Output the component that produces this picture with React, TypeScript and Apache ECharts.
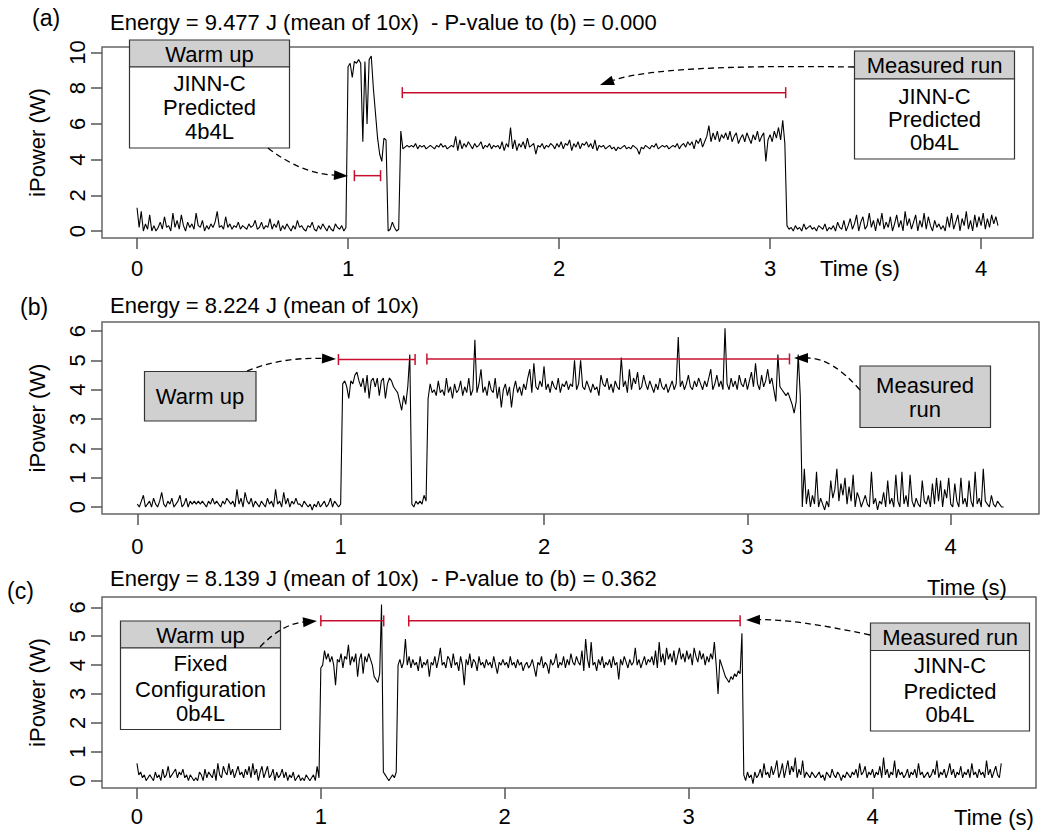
import React, { useEffect, useRef } from "react";
import * as echarts from "echarts";

// sampling step of the power traces (seconds)
const STEP = 0.01;

// (a) JINN-C predicted warm up 4b4L, measured run 0b4L — samples from t = 0.00 s
const powerA = [
  1.3, 0.2, 1.1, 0.0, 0.4, 0.1, 0.9, 0.0, 0.3, 0.0,
  0.2, 0.5, 0.1, 0.8, 0.2, 0.3, 0.0, 1.0, 0.2, 0.6,
  0.1, 0.9, 0.3, 0.0, 0.5, 0.2, 0.4, 0.1, 1.0, 0.3,
  0.2, 0.6, 0.0, 0.3, 0.1, 0.4, 0.2, 0.5, 1.1, 0.2,
  0.3, 0.1, 0.8, 0.2, 0.4, 0.1, 0.3, 0.2, 0.5, 0.1,
  0.3, 0.2, 0.1, 0.4, 0.2, 0.3, 0.6, 0.1, 0.2, 0.5,
  0.1, 0.3, 0.2, 0.7, 0.1, 0.4, 0.2, 0.6, 0.0, 0.3,
  0.1, 0.4, 0.2, 0.0, 0.3, 0.1, 0.6, 0.2, 0.3, 0.1,
  0.0, 0.3, 0.2, 0.5, 0.1, 0.0, 0.3, 0.1, 0.4, 0.2,
  0.0, 0.3, 0.1, 0.0, 0.4, 0.2, 0.1, 0.3, 0.0, 0.2,
  9.2, 9.4, 8.6, 9.5, 9.4, 9.6, 9.4, 5.0, 9.5, 6.0,
  9.6, 9.8, 8.0, 6.6, 5.2, 4.3, 3.9, 5.2, 5.1, 0.0,
  0.1, 0.5, 0.2, 0.0, 0.1, 5.6, 4.6, 4.7, 4.8, 4.7,
  4.8, 4.7, 4.9, 4.6, 4.8, 4.7, 4.8, 4.6, 4.7, 4.8,
  4.7, 4.6, 4.8, 4.7, 4.9, 4.7, 4.8, 4.6, 4.7, 4.8,
  4.7, 5.3, 4.5, 5.1, 4.6, 4.9, 4.7, 5.0, 4.8, 4.6,
  4.9, 4.7, 4.8, 5.0, 4.6, 4.8, 4.7, 4.9, 4.6, 4.8,
  4.7, 4.8, 4.6, 5.0, 4.5, 4.9, 4.7, 5.8, 4.6, 5.1,
  4.5, 4.9, 4.7, 5.0, 4.6, 5.2, 4.7, 4.8, 4.9, 4.3,
  4.8, 4.7, 4.9, 4.6, 4.8, 4.7, 4.9, 4.8, 4.6, 4.9,
  4.7, 5.0, 4.6, 4.9, 4.8, 5.1, 4.5, 4.9, 4.7, 5.0,
  4.6, 4.9, 4.8, 5.0, 4.7, 4.9, 4.6, 5.1, 4.5, 4.8,
  4.7, 4.8, 4.6, 4.7, 4.8, 4.6, 4.7, 4.5, 4.7, 4.6,
  4.7, 4.8, 4.6, 4.7, 4.6, 4.8, 4.7, 4.6, 4.3, 4.7,
  4.6, 4.8, 4.7, 4.6, 4.8, 4.7, 4.9, 4.6, 4.7, 4.8,
  4.7, 4.8, 4.6, 4.7, 4.8, 4.7, 4.9, 4.6, 4.8, 4.9,
  4.7, 5.0, 4.8, 5.0, 4.6, 5.1, 4.9, 5.2, 4.7, 5.0,
  5.3, 5.9, 5.0, 5.5, 5.1, 5.6, 5.0, 5.4, 5.2, 5.5,
  5.1, 5.6, 5.0, 5.3, 5.5, 4.9, 5.2, 5.4, 5.0, 5.5,
  5.2, 4.9, 5.4, 5.1, 5.6, 5.0, 5.3, 5.5, 3.9, 5.1,
  5.4, 5.0, 5.6, 5.2, 5.8, 5.1, 6.2, 4.9, 0.3, 0.1,
  0.2, 0.0, 0.3, 0.1, 0.2, 0.0, 0.4, 0.1, 0.2, 0.3,
  0.1, 0.2, 0.0, 0.3, 0.2, 0.1, 0.4, 0.0, 0.2, 0.1,
  0.3, 0.0, 0.5, 0.2, 0.1, 0.6, 0.0, 0.3, 0.7, 0.1,
  0.4, 0.9, 0.0, 0.5, 0.8, 0.1, 0.3, 1.0, 0.2, 0.6,
  0.0, 0.7, 0.3, 1.0, 0.1, 0.5, 0.2, 0.8, 0.0, 0.4,
  0.9, 0.2, 0.6, 0.0, 1.1, 0.3, 0.7, 0.1, 0.5, 0.9,
  0.0, 0.6, 0.2, 1.0, 0.1, 0.8, 0.3, 0.0, 0.6, 0.2,
  0.4, 0.1, 0.3, 0.0, 0.8, 0.2, 1.0, 0.1, 0.5, 0.9,
  0.0, 0.7, 0.3, 1.1, 0.1, 0.6, 0.0, 0.9, 0.2, 0.8,
  0.3, 1.0, 0.1, 0.7, 0.2, 0.9, 0.4, 0.8, 0.3,
];

// (b) reference run — samples from t = 0.00 s
const powerB = [
  0.1, 0.0, 0.2, 0.4, 0.0, 0.1, 0.2, 0.0, 0.3, 0.1,
  0.0, 0.2, 0.5, 0.1, 0.0, 0.2, 0.1, 0.3, 0.0, 0.1,
  0.2, 0.4, 0.0, 0.1, 0.3, 0.0, 0.2, 0.1, 0.2, 0.1,
  0.2, 0.1, 0.2, 0.1, 0.0, 0.2, 0.1, 0.3, 0.1, 0.2,
  0.1, 0.0, 0.2, 0.1, 0.3, 0.2, 0.1, 0.2, 0.0, 0.6,
  0.1, 0.3, 0.0, 0.5, 0.2, 0.1, 0.3, 0.0, 0.2, 0.1,
  0.0, 0.2, 0.1, 0.0, 0.3, 0.1, 0.2, 0.0, 0.6, 0.1,
  0.2, 0.0, 0.5, 0.1, 0.3, 0.0, 0.2, 0.1, 0.3, 0.1,
  0.1, 0.0, 0.2, 0.1, 0.0, 0.1, -0.1, 0.1, 0.0, 0.2,
  0.0, 0.1, 0.2, 0.0, 0.1, 0.3, 0.0, 0.2, 0.1, 0.0,
  0.1, 4.2, 4.3, 4.1, 3.7, 4.3, 4.2, 4.5, 4.6, 4.3,
  4.1, 4.4, 3.9, 4.5, 3.7, 4.3, 4.4, 4.1, 4.4, 3.8,
  4.3, 4.4, 3.7, 4.2, 4.4, 4.3, 4.1, 4.0, 3.9, 3.6,
  3.3, 3.8, 3.5, 4.1, 5.2, 0.1, 0.0, 0.2, 0.1, 0.2,
  0.1, 0.4, 0.2, 3.7, 4.2, 3.9, 4.0, 3.8, 4.3, 3.9,
  4.0, 3.8, 4.4, 3.9, 4.1, 3.7, 4.2, 3.9, 4.0, 4.3,
  3.8, 4.1, 3.9, 4.4, 3.8, 4.0, 5.7, 3.9, 4.2, 4.7,
  3.9, 4.1, 3.8, 4.3, 4.0, 3.9, 4.4, 3.7, 4.1, 3.4,
  4.0, 4.2, 3.8, 4.1, 3.4, 4.0, 4.3, 3.9, 4.1, 3.8,
  4.2, 4.0, 4.4, 4.7, 3.9, 4.9, 4.1, 4.0, 4.3, 4.1,
  4.8, 4.0, 4.2, 3.9, 4.3, 4.1, 4.0, 4.4, 3.9, 4.2,
  4.1, 4.3, 4.0, 4.2, 4.1, 5.0, 4.0, 4.2, 5.0, 4.1,
  4.0, 4.3, 4.1, 3.9, 4.2, 4.0, 4.1, 3.8, 4.5, 4.2,
  4.1, 4.4, 4.0, 4.2, 3.9, 4.3, 4.1, 4.0, 5.1, 4.1,
  4.3, 3.9, 4.7, 4.0, 4.4, 4.2, 4.6, 4.0, 4.1, 4.5,
  4.2, 4.0, 4.3, 4.1, 3.9, 4.2, 4.0, 4.4, 4.1, 4.0,
  4.2, 3.9, 4.1, 4.3, 4.0, 4.2, 5.8, 4.1, 4.3, 4.0,
  4.2, 4.5, 4.1, 4.0, 4.3, 4.1, 4.4, 4.2, 4.0, 4.3,
  4.1, 4.4, 4.7, 4.0, 4.2, 4.5, 4.1, 4.3, 4.0, 6.1,
  4.2, 4.0, 4.4, 4.1, 4.3, 4.0, 4.5, 4.2, 4.1, 4.4,
  4.0, 4.3, 4.6, 4.1, 4.9, 4.2, 4.0, 4.5, 4.1, 4.3,
  4.7, 4.2, 4.4, 4.0, 3.6, 5.2, 4.1, 4.0, 3.9, 3.8,
  3.9, 3.7, 3.5, 3.2, 3.6, 5.2, 3.8, 0.0, 1.3, 0.1,
  0.6, 0.0, 0.4, 0.1, 1.2, 0.0, 0.3, 0.1, -0.1, 0.2,
  0.0, 0.9, 0.3, 0.6, 1.3, 0.2, 0.8, 0.4, 1.0, 0.1,
  0.7, 0.2, 1.1, 0.0, 0.5, 0.3, 0.0, 0.2, 0.4, 0.1,
  0.0, 1.2, 0.1, 0.3, -0.1, 0.2, 0.1, 0.5, 0.0, 0.9,
  0.1, 0.3, 0.0, 1.1, 0.2, 0.0, 1.2, 0.1, 0.4, 0.0,
  1.1, 0.2, 0.0, 0.3, 0.1, 0.0, 0.9, 0.2, 0.1, 0.4,
  0.0, 0.8, 0.1, 1.0, 0.2, 0.9, 0.0, 0.6, 0.3, 1.0,
  0.1, 0.0, 0.8, 0.2, 0.0, 1.0, 0.1, 0.3, 0.0, 0.9,
  0.2, 0.0, 1.2, 0.1, 0.3, 0.0, 1.3, 0.2, 0.1, 0.0,
  0.4, 0.1, 0.0, 0.2, 0.1, 0.0, 0.0,
];

// (c) fixed configuration warm up 0b4L — samples from t = 0.00 s
const powerC = [
  0.6, 0.2, 0.3, 0.1, 0.2, 0.0, 0.1, 0.2, 0.1, 0.0,
  0.3, 0.1, 0.2, 0.0, 0.4, 0.1, 0.2, 0.5, 0.1, 0.2,
  0.3, 0.4, 0.1, 0.3, 0.2, 0.4, 0.1, 0.2, 0.0, 0.2,
  0.1, 0.0, 0.1, 0.0, 0.3, 0.2, 0.0, 0.4, 0.1, 0.3,
  0.2, 0.1, 0.4, 0.0, 0.6, 0.2, 0.1, 0.5, 0.3, 0.2,
  0.6, 0.2, 0.4, 0.1, 0.3, 0.5, 0.2, 0.3, 0.1, 0.4,
  0.2, 0.5, 0.1, 0.6, 0.2, 0.4, 0.0, 0.3, 0.5, 0.1,
  0.3, 0.5, 0.1, 0.2, 0.4, 0.0, 0.3, 0.1, 0.2, 0.4,
  0.1, 0.3, 0.0, 0.2, 0.1, 0.3, 0.0, 0.1, 0.2, 0.0,
  0.1, 0.0, 0.2, 0.1, 0.0, 0.1, 0.2, 0.0, 0.5, 0.1,
  3.9, 4.0, 4.5, 4.2, 4.4, 4.1, 4.3, 4.0, 3.3, 4.2,
  4.1, 4.4, 3.9, 4.3, 4.2, 4.7, 4.0, 4.3, 4.1, 4.4,
  3.6, 4.2, 4.4, 3.7, 4.3, 4.1, 4.4, 4.2, 4.0, 3.6,
  3.5, 3.4, 3.7, 6.1, 0.3, 0.2, 0.1, 0.0, 0.1, 0.2,
  0.1, 0.3, 4.0, 4.2, 3.9, 4.1, 4.9, 4.0, 4.3, 3.9,
  4.2, 4.0, 4.1, 3.8, 4.3, 3.9, 4.1, 4.0, 4.2, 3.6,
  4.1, 4.0, 4.3, 3.9, 4.2, 4.6, 4.0, 4.1, 3.9, 4.3,
  4.2, 3.9, 4.4, 4.0, 4.1, 3.8, 4.3, 4.0, 3.3, 4.2,
  4.0, 4.4, 3.9, 4.2, 4.1, 3.8, 4.3, 4.0, 4.1, 3.9,
  4.2, 4.0, 4.1, 3.9, 4.3, 4.0, 3.7, 4.1, 4.0, 4.2,
  4.0, 4.1, 3.9, 4.3, 4.0, 4.1, 3.9, 4.2, 4.0, 4.1,
  3.8, 4.0, 4.1, 3.9, 4.0, 4.2, 3.9, 3.6, 4.1, 4.0,
  4.3, 3.9, 4.1, 4.0, 3.7, 4.2, 4.0, 4.1, 4.4, 3.9,
  4.1, 4.0, 4.3, 3.9, 4.2, 4.0, 4.4, 4.1, 4.0, 4.3,
  4.1, 4.0, 4.5, 3.8, 4.9, 4.2, 3.9, 4.8, 4.0, 4.1,
  3.8, 4.2, 4.0, 4.3, 3.9, 4.1, 4.0, 4.2, 3.9, 4.3,
  4.0, 4.1, 3.5, 4.2, 4.0, 4.3, 4.1, 3.9, 4.2, 4.0,
  4.1, 4.6, 4.0, 4.2, 3.9, 4.1, 4.3, 4.0, 4.2, 4.1,
  4.3, 4.0, 4.5, 3.9, 4.8, 4.1, 4.4, 4.0, 4.6, 4.2,
  4.4, 4.1, 4.5, 4.0, 4.3, 4.6, 4.2, 4.4, 4.1, 4.5,
  4.2, 4.4, 4.0, 4.6, 4.3, 4.1, 4.5, 4.2, 4.4, 4.0,
  4.3, 4.1, 4.4, 4.2, 4.8, 4.0, 3.0, 4.2, 4.0, 3.8,
  3.6, 3.5, 3.4, 3.6, 3.5, 3.7, 3.6, 3.8, 3.7, 5.1,
  0.2, 0.0, 0.3, 0.1, 0.2, -0.1, 0.3, 0.1, 0.2, 0.4,
  0.1, 0.6, 0.2, 0.3, 0.1, 0.5, 0.2, 0.4, 0.7, 0.1,
  0.3, 0.6, 0.1, 0.4, 0.7, 0.2, 0.5, 0.3, 0.8, 0.1,
  0.4, 0.2, 0.7, 0.1, 0.3, 0.2, 0.1, 0.3, 0.2, 0.1,
  0.2, 0.3, 0.1, 0.2, 0.0, 0.3, 0.2, 0.1, 0.4, 0.2,
  0.1, 0.3, 0.2, 0.0, 0.2, 0.1, 0.3, 0.2, 0.1, 0.3,
  0.2, 0.4, 0.1, 0.6, 0.2, 0.3, 0.5, 0.1, 0.3, 0.2,
  0.4, 0.1, 0.3, 0.2, 0.5, 0.1, 0.8, 0.2, 0.4, 0.1,
  0.3, 0.2, 0.7, 0.1, 0.4, 0.2, 0.3, 0.1, 0.2, 0.4,
  0.1, 0.3, 0.2, 0.4, 0.1, 0.6, 0.2, 0.3, 0.1, 0.2,
  0.3, 0.1, 0.2, 0.4, 0.2, 0.7, 0.1, 0.3, 0.2, 0.4,
  0.1, 0.3, 0.6, 0.2, 0.4, 0.1, 0.3, 0.2, 0.5, 0.1,
  0.3, 0.2, 0.4, 0.1, 0.6, 0.2, 0.3, 0.1, 0.4, 0.2,
  0.3, 0.1, 0.7, 0.2, 0.4, 0.1, 0.3, 0.5, 0.2, 0.1,
  0.6,
];

// red interval markers: [start (s), end (s), level (W)]
const intervalsA = [
  [1.03, 1.154, 3.1],
  [1.257, 3.074, 7.75],
];
const intervalsB = [
  [0.989, 1.366, 5.03],
  [1.424, 3.207, 5.05],
];
const intervalsC = [
  [1.0, 1.342, 5.53],
  [1.478, 3.28, 5.53],
];

const xTicks = [0, 1, 2, 3, 4];
const yTicksA = [0, 2, 4, 6, 8, 10];
const yTicksBC = [0, 1, 2, 3, 4, 5, 6];

const panelTags = ["(a)", "(b)", "(c)"];
const panelTitles = [
  "Energy = 9.477 J (mean of 10x)  - P-value to (b) = 0.000",
  "Energy = 8.224 J (mean of 10x)",
  "Energy = 8.139 J (mean of 10x)  - P-value to (b) = 0.362",
];
const X_NAME = "Time (s)";
const Y_NAME = "iPower (W)";

const FONT = '"Liberation Sans", Arial, Helvetica, sans-serif';
const RED = "#c8102e";
const BOXGRAY = "#d0d0d0";
const FS = 22;

const toSeries = (vals: number[]) => vals.map((v, i) => [Math.round(i * STEP * 100) / 100, v]);

function txt(text: string, x: number, y: number, size = FS, align = "center") {
  return {
    type: "text",
    x,
    y,
    z: 20,
    silent: true,
    style: { text, fill: "#000", fontSize: size, fontFamily: FONT, align, verticalAlign: "middle" },
  };
}

function rect(x: number, y: number, w: number, h: number, fill: string) {
  return {
    type: "rect",
    z: 15,
    silent: true,
    shape: { x, y, width: w, height: h },
    style: { fill, stroke: "#333", lineWidth: 1.2 },
  };
}

function arrow(sx: number, sy: number, cx: number, cy: number, tx: number, ty: number) {
  const dx = tx - cx;
  const dy = ty - cy;
  const len = Math.hypot(dx, dy);
  const ux = dx / len;
  const uy = dy / len;
  const L = 14;
  const W = 5;
  const bx = tx - ux * L;
  const by = ty - uy * L;
  return [
    {
      type: "bezierCurve",
      z: 16,
      silent: true,
      shape: { x1: sx, y1: sy, cpx1: cx, cpy1: cy, x2: bx, y2: by },
      style: { stroke: "#000", lineWidth: 1.3, lineDash: [6, 4], fill: "none" },
    },
    {
      type: "polygon",
      z: 16,
      silent: true,
      shape: {
        points: [
          [tx, ty],
          [bx - uy * W, by + ux * W],
          [bx + uy * W, by - ux * W],
        ],
      },
      style: { fill: "#000" },
    },
  ];
}

function intervalSeries(data: number[][], idx: number) {
  return {
    type: "custom",
    xAxisIndex: idx,
    yAxisIndex: idx,
    data,
    z: 5,
    silent: true,
    renderItem: (_p: any, api: any) => {
      const p1 = api.coord([api.value(0), api.value(2)]);
      const p2 = api.coord([api.value(1), api.value(2)]);
      const style = { stroke: RED, lineWidth: 1.5 };
      return {
        type: "group",
        children: [
          { type: "line", shape: { x1: p1[0], y1: p1[1], x2: p2[0], y2: p2[1] }, style },
          { type: "line", shape: { x1: p1[0], y1: p1[1] - 5.5, x2: p1[0], y2: p1[1] + 5.5 }, style },
          { type: "line", shape: { x1: p2[0], y1: p2[1] - 5.5, x2: p2[0], y2: p2[1] + 5.5 }, style },
        ],
      };
    },
  };
}

const grids = [
  { left: 102, top: 47, width: 931, height: 191, xMin: -0.166, xMax: 4.246, yMin: -0.392, yMax: 10.308, yTicks: yTicksA, xMargin: 19 },
  { left: 102, top: 322, width: 937, height: 192, xMin: -0.1736, xMax: 4.434, yMin: -0.238, yMax: 6.31, yTicks: yTicksBC, xMargin: 21 },
  { left: 102, top: 597, width: 934, height: 191, xMin: -0.19, xMax: 4.889, yMin: -0.253, yMax: 6.356, yTicks: yTicksBC, xMargin: 17 },
];

export default function App() {
  const ref = useRef<HTMLDivElement>(null);

  useEffect(() => {
    if (!ref.current) return;
    const chart = echarts.init(ref.current, null, { renderer: "svg", width: 1042, height: 833 });

    const graphic: any[] = [
      // panel tags and titles
      txt(panelTags[0], 32, 18, 23, "left"),
      txt(panelTitles[0], 110, 22, FS, "left"),
      txt(panelTags[1], 20, 307, 23, "left"),
      txt(panelTitles[1], 110, 305, FS, "left"),
      txt(panelTags[2], 7, 591, 23, "left"),
      txt(panelTitles[2], 110, 578, FS, "left"),
      // x axis names
      txt(X_NAME, 860, 268),
      txt(X_NAME, 967, 587),
      txt(X_NAME, 994, 817),

      // (a) warm-up box
      rect(129.5, 40, 160, 27, BOXGRAY),
      rect(129.5, 67, 160, 81, "#fff"),
      txt("Warm up", 209.5, 54),
      txt("JINN-C", 209.5, 83),
      txt("Predicted", 209.5, 107.5),
      txt("4b4L", 209.5, 131.5),
      ...arrow(268, 148, 300, 173, 348, 176),
      // (a) measured run box
      rect(854.5, 51, 160, 28, BOXGRAY),
      rect(854.5, 79, 160, 80, "#fff"),
      txt("Measured run", 934.5, 65.5),
      txt("JINN-C", 934.5, 96),
      txt("Predicted", 934.5, 119),
      txt("0b4L", 934.5, 142),
      ...arrow(854, 67, 660, 64, 600, 85),

      // (b) warm-up box
      rect(144.5, 371.5, 111.5, 49.5, BOXGRAY),
      txt("Warm up", 200, 396.5),
      ...arrow(247, 371, 282, 357, 336, 359),
      // (b) measured run box
      rect(860, 366, 130.5, 61.5, BOXGRAY),
      txt("Measured", 925, 385),
      txt("run", 925, 409.5),
      ...arrow(860, 390, 832, 358, 794, 358),

      // (c) warm-up box
      rect(120.5, 621, 160, 27, BOXGRAY),
      rect(120.5, 648, 160, 81.5, "#fff"),
      txt("Warm up", 200.5, 635),
      txt("Fixed", 200.5, 663.5),
      txt("Configuration", 200.5, 689.5),
      txt("0b4L", 200.5, 713.5),
      ...arrow(260, 647, 282, 624, 317, 621),
      // (c) measured run box
      rect(870.5, 623, 159, 27.5, BOXGRAY),
      rect(870.5, 650.5, 159, 80.5, "#fff"),
      txt("Measured run", 950, 637),
      txt("JINN-C", 950, 665.5),
      txt("Predicted", 950, 691),
      txt("0b4L", 950, 714.5),
      ...arrow(870, 635, 795, 619, 746, 620),
    ];

    const option: any = {
      animation: false,
      backgroundColor: "#fff",
      grid: grids.map((g) => ({
        left: g.left,
        top: g.top,
        width: g.width,
        height: g.height,
        show: true,
        borderColor: "#666",
        borderWidth: 1.5,
        backgroundColor: "transparent",
        outerBoundsMode: "none",
      })),
      xAxis: grids.map((g, i) => ({
        type: "value",
        gridIndex: i,
        min: g.xMin,
        max: g.xMax,
        axisLine: { show: false, onZero: false },
        splitLine: { show: false },
        axisTick: { show: true, customValues: xTicks, length: 11, lineStyle: { color: "#555", width: 1.5 } },
        axisLabel: { customValues: xTicks, fontSize: FS, color: "#000", fontFamily: FONT, margin: g.xMargin },
      })),
      yAxis: grids.map((g, i) => ({
        type: "value",
        gridIndex: i,
        min: g.yMin,
        max: g.yMax,
        name: Y_NAME,
        nameLocation: "middle",
        nameRotate: 90,
        nameGap: 54,
        nameTextStyle: { color: "#000", fontSize: FS, fontFamily: FONT },
        axisLine: { show: false, onZero: false },
        splitLine: { show: false },
        axisTick: { show: true, customValues: g.yTicks, length: 11, lineStyle: { color: "#555", width: 1.5 } },
        axisLabel: { customValues: g.yTicks, rotate: 90, fontSize: FS, color: "#000", fontFamily: FONT, margin: 14 },
      })),
      series: [
        ...[powerA, powerB, powerC].map((vals, i) => ({
          type: "line",
          xAxisIndex: i,
          yAxisIndex: i,
          data: toSeries(vals),
          showSymbol: false,
          symbol: "none",
          lineStyle: { color: "#000", width: 1.1 },
          z: 3,
          silent: true,
        })),
        intervalSeries(intervalsA, 0),
        intervalSeries(intervalsB, 1),
        intervalSeries(intervalsC, 2),
      ],
      graphic: { elements: graphic },
    };

    chart.setOption(option);
    return () => chart.dispose();
  }, []);

  return (
    <div
      ref={ref}
      style={{ position: "absolute", left: 0, top: 0, width: 1042, height: 833, background: "#fff" }}
    />
  );
}
